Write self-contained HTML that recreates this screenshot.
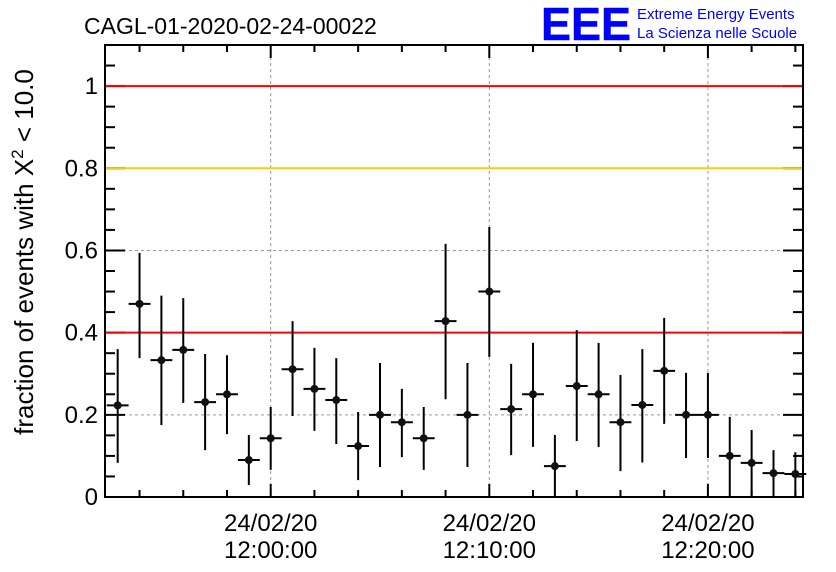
<!DOCTYPE html>
<html><head><meta charset="utf-8"><style>
body{margin:0;background:#fff;}
svg{display:block;font-family:"Liberation Sans",Arial,sans-serif;}
</style></head><body>
<svg id="chart" width="836" height="572" viewBox="0 0 836 572">
<rect x="0" y="0" width="836" height="572" fill="#fff"/>
<text x="84" y="34" font-size="23" fill="#000">CAGL-01-2020-02-24-00022</text>
<g>
<text x="541" y="40" font-size="46" font-weight="bold" fill="#0000ff" stroke="#0000ff" stroke-width="0.5" textLength="90" lengthAdjust="spacingAndGlyphs">EEE</text>
<text x="637" y="19" font-size="15" fill="#0000ff">Extreme Energy Events</text>
<text x="637" y="38" font-size="15" fill="#0000ff">La Scienza nelle Scuole</text>
</g>
<g id="grid"></g>
<g id="axes"></g>
<g id="refs"></g>
<g id="marks"></g>
<text transform="translate(33,252) rotate(-90)" text-anchor="middle" font-size="26" fill="#000">fraction of events with X<tspan dy="-10" font-size="17">2</tspan><tspan dy="10"> &lt; 10.0</tspan></text>
</svg>
<script>
const minutes=[-7,-6,-5,-4,-3,-2,-1,0,1,2,3,4,5,6,7,8,9,10,11,12,13,14,15,16,17,18,19,20,21,22,23,24];
const values=[0.223,0.47,0.333,0.358,0.231,0.25,0.09,0.143,0.311,0.263,0.236,0.124,0.2,0.182,0.143,0.428,0.2,0.5,0.214,0.25,0.075,0.27,0.25,0.182,0.224,0.307,0.2,0.2,0.1,0.083,0.058,0.056];
const errHigh=[0.137,0.124,0.157,0.126,0.117,0.095,0.061,0.076,0.117,0.1,0.102,0.083,0.126,0.081,0.076,0.188,0.126,0.157,0.11,0.125,0.076,0.136,0.125,0.115,0.136,0.129,0.102,0.102,0.095,0.08,0.056,0.053];
const errLow=[0.14,0.132,0.158,0.129,0.117,0.097,0.061,0.077,0.114,0.102,0.107,0.083,0.127,0.085,0.077,0.19,0.127,0.159,0.112,0.128,0.075,0.134,0.128,0.119,0.14,0.129,0.105,0.105,0.1,0.083,0.058,0.056];
const yTicks=[0,0.2,0.4,0.6,0.8,1];
const yTickLabels=["0","0.2","0.4","0.6","0.8","1"];
const xTicks=[0,10,20];
const xTickDates=["24/02/20","24/02/20","24/02/20"];
const xTickTimes=["12:00:00","12:10:00","12:20:00"];
const refLevels=[1,0.8,0.4];
const refColors=["#ff0000","#ffcc00","#ff0000"];
const X0=105,X1=803,Y0=497,Y1=45;
const xMin=-7.58,xMax=24.35,yMin=0,yMax=1.1;
const sx=m=>X0+(m-xMin)/(xMax-xMin)*(X1-X0);
const sy=v=>Y0-(v-yMin)/(yMax-yMin)*(Y0-Y1);
const NS="http://www.w3.org/2000/svg";
function mk(tag,attrs,parent){const e=document.createElementNS(NS,tag);for(const k in attrs)e.setAttribute(k,attrs[k]);parent.appendChild(e);return e;}
const grid=document.getElementById('grid'),refs=document.getElementById('refs'),marks=document.getElementById('marks'),axes=document.getElementById('axes');
yTicks.forEach(v=>{if(v>0){const l=mk('line',{x1:X0,x2:X1,y1:sy(v),y2:sy(v),stroke:'#999','stroke-dasharray':'3,3','stroke-width':1},grid);

}});
xTicks.forEach(m=>{const l=mk('line',{x1:sx(m),x2:sx(m),y1:Y1,y2:Y0,stroke:'#999','stroke-dasharray':'3,3','stroke-width':1},grid);

});
const fr=mk('rect',{x:X0,y:Y1,width:X1-X0,height:Y0-Y1,fill:'none',stroke:'#000','stroke-width':2},axes);


for(let v=0;v<=1.1001;v+=0.05){const major=Math.abs(v/0.2-Math.round(v/0.2))<1e-6;const len=major?20:10;
mk('line',{x1:X0,x2:X0+len,y1:sy(v),y2:sy(v),stroke:'#000','stroke-width':2},axes);
mk('line',{x1:X1-len,x2:X1,y1:sy(v),y2:sy(v),stroke:'#000','stroke-width':2},axes);}
yTicks.forEach((v,i)=>{const t=mk('text',{x:X0-7,y:sy(v)+8,'text-anchor':'end','font-size':24},axes);t.textContent=yTickLabels[i];

});
for(let m=-6;m<=24;m+=2){const major=(m%10===0);const len=major?13:7;
mk('line',{x1:sx(m),x2:sx(m),y1:Y0,y2:Y0-len,stroke:'#000','stroke-width':2},axes);
mk('line',{x1:sx(m),x2:sx(m),y1:Y1,y2:Y1+len,stroke:'#000','stroke-width':2},axes);}
xTicks.forEach((m,i)=>{const t1=mk('text',{x:sx(m),y:531,'text-anchor':'middle','font-size':24},axes);t1.textContent=xTickDates[i];


const t2=mk('text',{x:sx(m),y:558,'text-anchor':'middle','font-size':24},axes);t2.textContent=xTickTimes[i];

});
refLevels.forEach((v,i)=>{const l=mk('line',{x1:X0+1,x2:X1-1,y1:sy(v),y2:sy(v),stroke:refColors[i],'stroke-width':2},refs);

});
minutes.forEach((m,i)=>{const g=mk('g',{},marks);


const x=sx(m),y=sy(values[i]);
mk('line',{x1:x,x2:x,y1:sy(Math.min(values[i]+errHigh[i],yMax)),y2:sy(Math.max(values[i]-errLow[i],0)),stroke:'#000','stroke-width':2},g);
mk('line',{x1:sx(m-0.5),x2:sx(m+0.5),y1:y,y2:y,stroke:'#000','stroke-width':2},g);
mk('circle',{cx:x,cy:y,r:4,fill:'#111'},g);});
</script>
</body></html>
